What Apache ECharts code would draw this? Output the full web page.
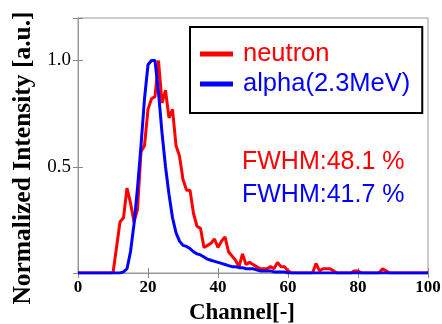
<!DOCTYPE html>
<html><head><meta charset="utf-8">
<script src="https://cdn.jsdelivr.net/npm/echarts@6/dist/echarts.min.js"></script>
<style>html,body{margin:0;padding:0;background:#fff}#c{width:442px;height:324px}</style>
</head><body><div id="c"></div>
<script>
const channels = [];
for (let i = 0; i <= 100; i++) channels.push(i);
const neutron = [
  0,0,0,0,0,0,0,0,0,0,
  0,0.12,0.24,0.26,0.40,0.33,0.24,0.30,0.57,0.60,
  0.77,0.82,0.83,1.0,0.80,0.86,0.73,0.77,0.60,0.55,
  0.44,0.39,0.39,0.28,0.22,0.21,0.12,0.13,0.14,0.16,
  0.12,0.15,0.17,0.10,0.08,0.06,0.03,0.09,0.04,0.05,
  0.04,0.03,0.02,0.02,0.02,0.03,0.02,0.05,0.03,0.03,
  0.01,0,0,0,0,0,0,0,0.045,0.01,
  0.02,0.02,0.02,0.01,0,0,0,0,0,0.01,
  0.01,0,0,0,0,0,0,0.02,0.01,0,
  0,0,0,0,0,0,0,0,0,0,0
];
const alpha = [
  0,0,0,0,0,0,0,0,0,0,
  0,0,0,0.005,0.02,0.10,0.23,0.40,0.60,0.82,
  0.98,1.0,1.0,0.85,0.66,0.50,0.37,0.26,0.19,0.15,
  0.13,0.125,0.115,0.10,0.09,0.085,0.075,0.065,0.06,0.055,
  0.05,0.045,0.04,0.035,0.03,0.03,0.025,0.025,0.02,0.02,
  0.02,0.015,0.01,0.01,0.01,0.01,0.005,0.005,0.005,0.005,
  0,0,0,0,0,0,0,0,0,0,
  0,0,0,0,0,0,0,0,0,0,
  0,0,0,0,0,0,0,0,0,0,
  0,0,0,0,0,0,0,0,0,0,0
];
const seriesNames = ['neutron', 'alpha(2.3MeV)'];
const fwhmLabels = ['FWHM:48.1 %', 'FWHM:41.7 %'];
const xTitle = 'Channel[-]';
const yTitle = 'Normalized Intensity [a.u.]';
const xTicks = [0, 20, 40, 60, 80, 100];
const yTickLabels = ['0.5', '1.0'];

const chart = echarts.init(document.getElementById('c'), null, {renderer: 'canvas'});
const serif = 'Liberation Serif';
const sans = 'Liberation Sans';
const tickStyle = {show: true, inside: true, length: 5, lineStyle: {color: '#888'}};
chart.setOption({
  animation: false,
  grid: {left: 78, right: 14, top: 18, bottom: 51, show: true, borderColor: '#999', borderWidth: 1,
    containLabel: false, outerBoundsMode: 'none'},
  legend: {
    orient: 'vertical', left: 190, top: 27,
    padding: [14, 12, 16, 10], itemGap: 4,
    borderColor: '#000', borderWidth: 2,
    itemWidth: 33, itemHeight: 5, icon: 'rect',
    textStyle: {fontFamily: sans, fontSize: 25.5, padding: [0, 0, 0, 5]},
    data: [
      {name: seriesNames[0], textStyle: {color: '#ff0000'}},
      {name: seriesNames[1], textStyle: {color: '#0000ff'}}
    ]
  },
  xAxis: [{
    type: 'value', min: 0, max: 100, interval: 20,
    axisLine: {show: true, lineStyle: {color: '#999'}},
    axisTick: tickStyle, splitLine: {show: false},
    axisLabel: {margin: 6, color: '#000', fontFamily: serif, fontWeight: 'bold', fontSize: 17,
      formatter: v => xTicks.includes(v) ? String(v) : ''}
  }, {
    type: 'value', position: 'top', min: 0, max: 100, interval: 20,
    axisLine: {show: false}, axisTick: tickStyle, axisLabel: {show: false}, splitLine: {show: false}
  }],
  yAxis: [{
    type: 'value', min: 0, max: 1.2, interval: 0.5,
    axisLine: {show: true, lineStyle: {color: '#999'}},
    axisTick: tickStyle, splitLine: {show: false},
    axisLabel: {margin: 7, color: '#000', fontFamily: serif, fontSize: 19,
      formatter: v => { const s = v.toFixed(1); return yTickLabels.includes(s) ? s : ''; }},
    name: yTitle, nameLocation: 'middle', nameGap: 40, nameRotate: 90,
    nameTextStyle: {color: '#000', fontFamily: serif, fontWeight: 'bold', fontSize: 25.5, padding: [0, 25, 0, 0]}
  }, {
    type: 'value', position: 'right', min: 0, max: 1.2, interval: 0.5,
    axisLine: {show: false}, axisTick: tickStyle, axisLabel: {show: false}, splitLine: {show: false}
  }],
  series: [
    {name: seriesNames[0], type: 'line', showSymbol: false, color: '#ff0000',
      lineStyle: {width: 3, color: '#ff0000'},
      data: channels.map((c, i) => [c, neutron[i]])},
    {name: seriesNames[1], type: 'line', showSymbol: false, color: '#0000ff',
      lineStyle: {width: 3, color: '#0000ff'},
      data: channels.map((c, i) => [c, alpha[i]])}
  ],
  graphic: [
    {type: 'text', x: 242, y: 313, style: {text: xTitle, fill: '#000', font: 'bold 23px "Liberation Serif"', align: 'center', verticalAlign: 'middle'}},
    {type: 'text', x: 242, y: 162, style: {text: fwhmLabels[0], fill: '#ff0000', font: '25px "Liberation Sans"', verticalAlign: 'middle'}},
    {type: 'text', x: 242, y: 195, style: {text: fwhmLabels[1], fill: '#0000ff', font: '25px "Liberation Sans"', verticalAlign: 'middle'}}
  ]
});
</script></body></html>
